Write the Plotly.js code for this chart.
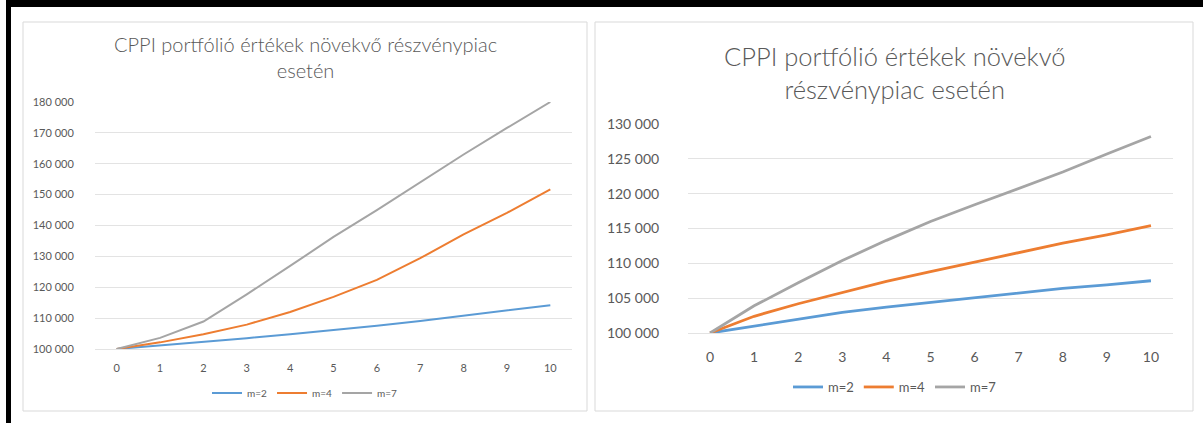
<!DOCTYPE html>
<html>
<head>
<meta charset="utf-8">
<script src="https://cdn.plot.ly/plotly-3.0.1.min.js"></script>
<style>html,body{margin:0;padding:0;background:#fff;}#chart{width:1203px;height:423px;}</style>
</head>
<body>
<div id="chart"></div>
<script>
// ---- data ----
const periods = [0, 1, 2, 3, 4, 5, 6, 7, 8, 9, 10];
const seriesNames = ["m=2", "m=4", "m=7"];
const leftM2 = [100000, 101100, 102200, 103500, 104800, 106100, 107500, 109100, 110800, 112400, 114200];
const leftM4 = [100000, 102150, 104800, 107900, 112000, 116900, 122400, 129400, 137100, 144100, 151700];
const leftM7 = [100000, 103600, 108900, 117700, 126900, 136300, 145000, 154000, 163000, 171600, 180000];
const rightM2 = [100000, 101000, 102000, 102950, 103700, 104400, 105100, 105800, 106400, 106900, 107500];
const rightM4 = [100000, 102400, 104200, 105850, 107400, 108800, 110200, 111600, 112900, 114100, 115400];
const rightM7 = [100000, 103900, 107200, 110400, 113300, 116000, 118400, 120800, 123100, 125700, 128200];
const chartTitle = "CPPI portfólió értékek növekvő";
const titleLeft = chartTitle + " részvénypiac<br>esetén";
const titleRight = chartTitle + "<br>részvénypiac esetén";

// ---- style ----
const W = 1203, H = 423;
const colors = ["#5B9BD5", "#ED7D31", "#A5A5A5"];
const txt = "#595959";
const FONT = "Lato, 'Open Sans', sans-serif";
const px = v => v / W;
const py = v => 1 - v / H;

const traces = [];
[leftM2, leftM4, leftM7].forEach((ys, i) => traces.push({
  x: periods, y: ys, name: seriesNames[i], type: "scatter", mode: "lines",
  line: {color: colors[i], width: 2}, xaxis: "x", yaxis: "y", legend: "legend"
}));
[rightM2, rightM4, rightM7].forEach((ys, i) => traces.push({
  x: periods, y: ys, name: seriesNames[i], type: "scatter", mode: "lines",
  line: {color: colors[i], width: 2.8}, xaxis: "x2", yaxis: "y2", legend: "legend2"
}));

const gridC = "#e3e3e3";
const layout = {
  width: W, height: H,
  margin: {l: 0, r: 0, t: 0, b: 0, pad: 0},
  paper_bgcolor: "#ffffff", plot_bgcolor: "rgba(0,0,0,0)",
  separators: ", ",
  font: {family: FONT, color: txt},
  showlegend: true,
  xaxis: {
    domain: [px(95), px(572)], range: [-0.5, 10.5], tickmode: "array", tickvals: periods,
    showgrid: false, zeroline: false, showline: true, linecolor: gridC, linewidth: 1,
    ticks: "outside", ticklen: 9, tickcolor: "rgba(0,0,0,0)",
    tickfont: {size: 11, color: txt, family: FONT}, anchor: "y", fixedrange: true
  },
  yaxis: {
    domain: [py(349), py(102)], range: [100000, 180000], dtick: 10000, tickformat: ",d",
    showgrid: true, gridcolor: gridC, gridwidth: 1, zeroline: false, showline: false,
    ticks: "outside", ticklen: 18, tickcolor: "rgba(0,0,0,0)",
    tickfont: {size: 11, color: txt, family: FONT}, anchor: "x", fixedrange: true
  },
  xaxis2: {
    domain: [px(688), px(1173)], range: [-0.5, 10.5], tickmode: "array", tickvals: periods,
    showgrid: false, zeroline: false, showline: true, linecolor: gridC, linewidth: 1,
    ticks: "outside", ticklen: 11, tickcolor: "rgba(0,0,0,0)",
    tickfont: {size: 14, color: txt, family: FONT}, anchor: "y2", fixedrange: true
  },
  yaxis2: {
    domain: [py(333), py(124)], range: [100000, 130000], dtick: 5000, tickformat: ",d",
    showgrid: true, gridcolor: gridC, gridwidth: 1, zeroline: false, showline: false,
    ticks: "outside", ticklen: 25, tickcolor: "rgba(0,0,0,0)",
    tickfont: {size: 14, color: txt, family: FONT}, anchor: "x2", fixedrange: true
  },
  legend: {
    orientation: "h", x: px(305), y: py(393), xanchor: "center", yanchor: "middle",
    font: {size: 10, color: txt, family: FONT}, bgcolor: "rgba(0,0,0,0)", itemwidth: 30, tracegroupgap: 0
  },
  legend2: {
    orientation: "h", x: px(895), y: py(387), xanchor: "center", yanchor: "middle",
    font: {size: 13, color: txt, family: FONT}, bgcolor: "rgba(0,0,0,0)", itemwidth: 30, tracegroupgap: 0
  },
  annotations: [
    {text: titleLeft, xref: "paper", yref: "paper", x: px(305), y: py(57), xanchor: "center", yanchor: "middle",
     showarrow: false, font: {size: 20, color: txt, family: FONT, weight: 300}, align: "center"},
    {text: titleRight, xref: "paper", yref: "paper", x: px(894), y: py(72), xanchor: "center", yanchor: "middle",
     showarrow: false, font: {size: 25.5, color: txt, family: FONT, weight: 300}, align: "center"}
  ],
  shapes: [
    {type: "rect", xref: "paper", yref: "paper", x0: px(23), x1: px(587), y0: py(411), y1: py(22),
     line: {color: "#d9d9d9", width: 1}, fillcolor: "rgba(0,0,0,0)", layer: "below"},
    {type: "rect", xref: "paper", yref: "paper", x0: px(595), x1: px(1193), y0: py(411), y1: py(22),
     line: {color: "#d9d9d9", width: 1}, fillcolor: "rgba(0,0,0,0)", layer: "below"},
    {type: "rect", xref: "paper", yref: "paper", x0: px(6), x1: px(1203), y0: py(7), y1: py(0),
     line: {width: 0}, fillcolor: "#000000", layer: "above"},
    {type: "rect", xref: "paper", yref: "paper", x0: px(6), x1: px(11), y0: py(423), y1: py(0),
     line: {width: 0}, fillcolor: "#000000", layer: "above"}
  ]
};

Plotly.newPlot("chart", traces, layout, {staticPlot: true, displayModeBar: false});
</script>
</body>
</html>
